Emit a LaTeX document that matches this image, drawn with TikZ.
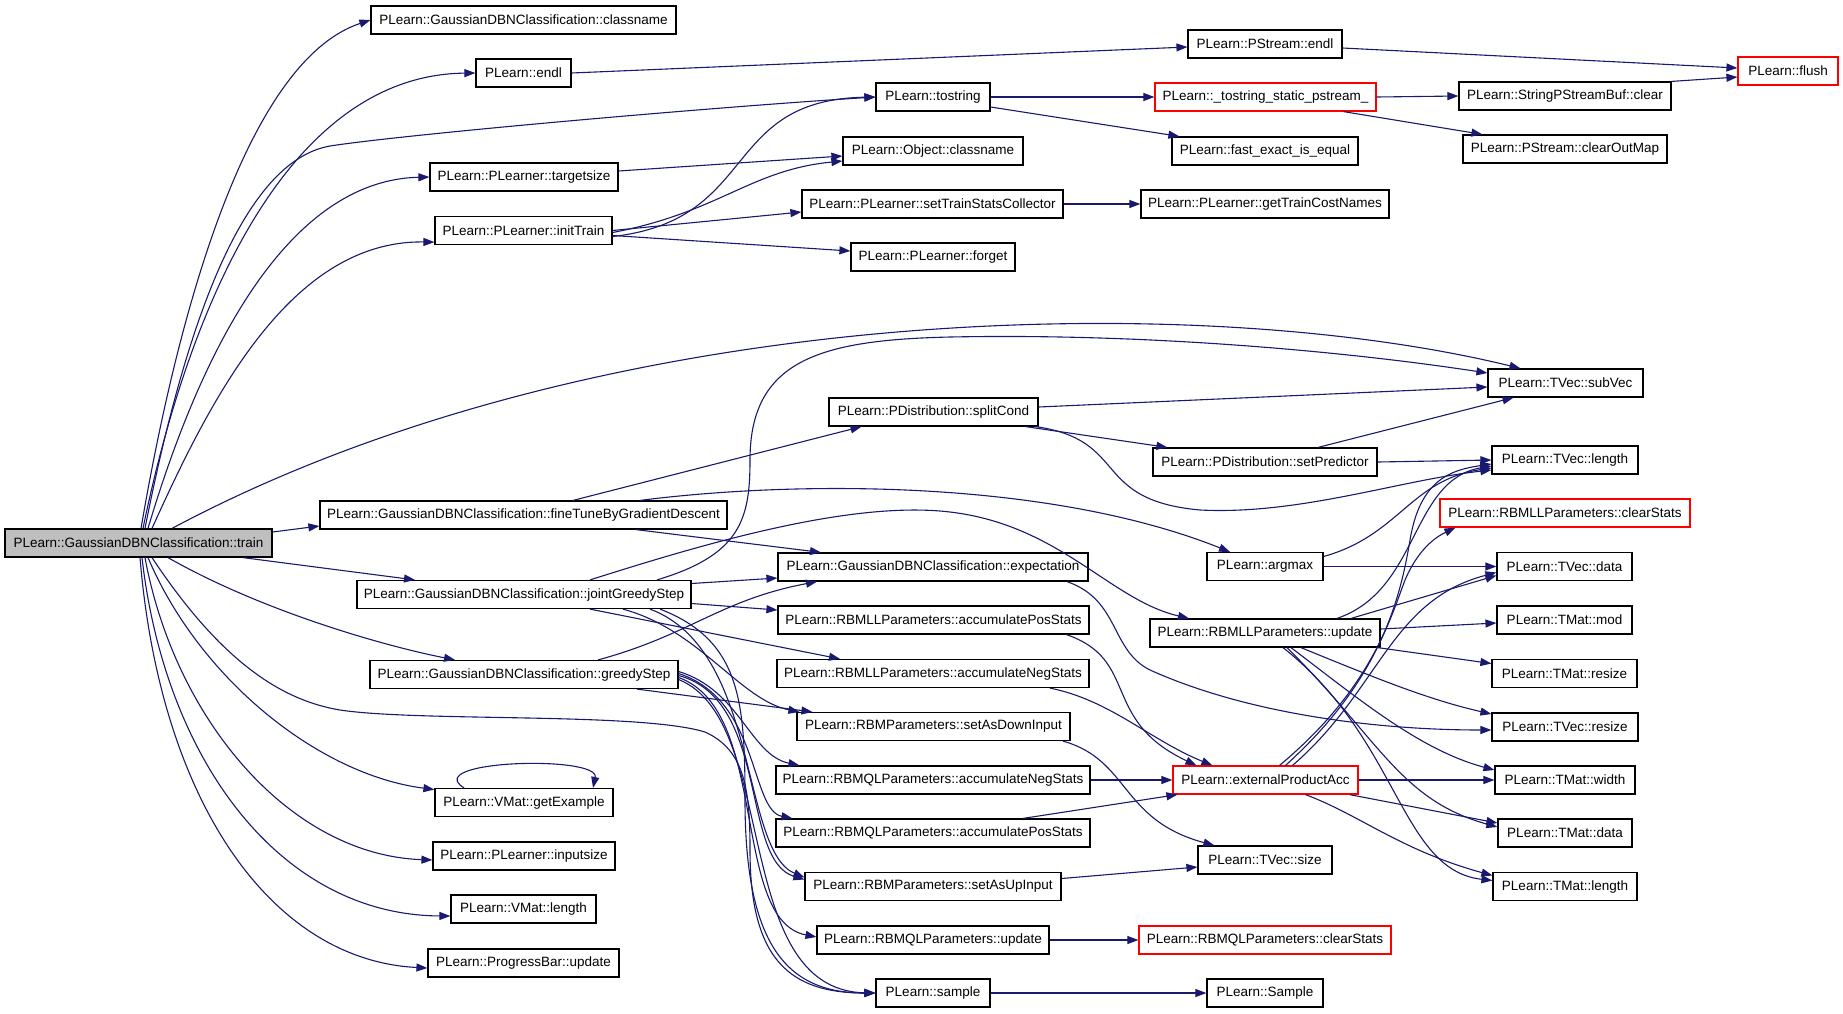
\documentclass[tikz,border=0pt]{standalone}
\usepackage{fontspec}
\setmainfont{Liberation Sans}
\usetikzlibrary{arrows.meta}
\definecolor{dblue}{HTML}{191970}
\definecolor{tgray}{HTML}{BFBFBF}
\begin{document}
\begin{tikzpicture}[x=1pt,y=-1pt,
  nbox/.style={draw=black, line width=1.2pt, fill=white, minimum height=28pt, inner sep=0pt, font=\fontsize{13.5pt}{15pt}\selectfont},
  redbox/.style={nbox, draw=red},
  cl/.style={draw=dblue, line width=1.1pt, -{Triangle[length=11pt,width=8pt]}}]
\useasboundingbox[fill=white] (0,0) rectangle (1843,1013);
% column 0
\node[nbox, fill=tgray, minimum width=267pt] (train) at (138.5,543) {PLearn::GaussianDBNClassification::train};
% column 1
\node[nbox, minimum width=305pt] (gclass) at (523.5,20) {PLearn::GaussianDBNClassification::classname};
\node[nbox, minimum width=95pt] (endl) at (523.5,73) {PLearn::endl};
\node[nbox, minimum width=188pt] (targetsize) at (524,177) {PLearn::PLearner::targetsize};
\node[nbox, minimum width=177pt] (initTrain) at (523.5,230.5) {PLearn::PLearner::initTrain};
\node[nbox, minimum width=407pt] (fineTune) at (523.5,515) {PLearn::GaussianDBNClassification::fineTuneByGradientDescent};
\node[nbox, minimum width=334pt] (jgs) at (524,594.5) {PLearn::GaussianDBNClassification::jointGreedyStep};
\node[nbox, minimum width=308pt] (gs) at (524,674.5) {PLearn::GaussianDBNClassification::greedyStep};
\node[nbox, minimum width=178pt] (getEx) at (524,802.5) {PLearn::VMat::getExample};
\node[nbox, minimum width=182pt] (inputsize) at (524,856) {PLearn::PLearner::inputsize};
\node[nbox, minimum width=145pt] (vmatlen) at (523.5,909) {PLearn::VMat::length};
\node[nbox, minimum width=191pt] (progress) at (523.5,963) {PLearn::ProgressBar::update};
% column 2
\node[nbox, minimum width=114pt] (tostring) at (933,97) {PLearn::tostring};
\node[nbox, minimum width=180pt] (objclass) at (933,151) {PLearn::Object::classname};
\node[nbox, minimum width=261pt] (setTSC) at (932.5,204) {PLearn::PLearner::setTrainStatsCollector};
\node[nbox, minimum width=164pt] (forget) at (933,257) {PLearn::PLearner::forget};
\node[nbox, minimum width=209pt] (splitCond) at (933.5,412) {PLearn::PDistribution::splitCond};
\node[nbox, minimum width=310pt] (expectation) at (933,567) {PLearn::GaussianDBNClassification::expectation};
\node[nbox, minimum width=311pt] (llaccpos) at (933.5,620) {PLearn::RBMLLParameters::accumulatePosStats};
\node[nbox, minimum width=312pt] (llaccneg) at (933,673.5) {PLearn::RBMLLParameters::accumulateNegStats};
\node[nbox, minimum width=273pt] (setDown) at (933.5,726.5) {PLearn::RBMParameters::setAsDownInput};
\node[nbox, minimum width=314pt] (qlaccneg) at (933,780) {PLearn::RBMQLParameters::accumulateNegStats};
\node[nbox, minimum width=314pt] (qlaccpos) at (933,833) {PLearn::RBMQLParameters::accumulatePosStats};
\node[nbox, minimum width=256pt] (setUp) at (933,886.5) {PLearn::RBMParameters::setAsUpInput};
\node[nbox, minimum width=232pt] (qlupdate) at (933,940) {PLearn::RBMQLParameters::update};
\node[nbox, minimum width=114pt] (sample) at (933,993) {PLearn::sample};
% column 3
\node[nbox, minimum width=154pt] (pendl) at (1265,44) {PLearn::PStream::endl};
\node[redbox, minimum width=221pt] (tss) at (1265.5,97) {PLearn::\_tostring\_static\_pstream\_};
\node[nbox, minimum width=186pt] (fastexact) at (1265,151) {PLearn::fast\_exact\_is\_equal};
\node[nbox, minimum width=248pt] (getTCN) at (1265,204) {PLearn::PLearner::getTrainCostNames};
\node[nbox, minimum width=224pt] (setPred) at (1265,462) {PLearn::PDistribution::setPredictor};
\node[nbox, minimum width=116pt] (argmax) at (1265,566.5) {PLearn::argmax};
\node[nbox, minimum width=230pt] (llupdate) at (1265,633) {PLearn::RBMLLParameters::update};
\node[redbox, minimum width=185pt] (extprod) at (1265.5,780) {PLearn::externalProductAcc};
\node[nbox, minimum width=134pt] (tvecsize) at (1265,860) {PLearn::TVec::size};
\node[redbox, minimum width=252pt] (qlclear) at (1265,940) {PLearn::RBMQLParameters::clearStats};
\node[nbox, minimum width=116pt] (Sample) at (1265,993) {PLearn::Sample};
% column 4
\node[nbox, minimum width=212pt] (spbclear) at (1565,96) {PLearn::StringPStreamBuf::clear};
\node[nbox, minimum width=204pt] (clearOut) at (1565,149) {PLearn::PStream::clearOutMap};
\node[nbox, minimum width=155pt] (subVec) at (1565.5,383) {PLearn::TVec::subVec};
\node[nbox, minimum width=146pt] (tveclen) at (1565,460) {PLearn::TVec::length};
\node[redbox, minimum width=250pt] (llclear) at (1565,513) {PLearn::RBMLLParameters::clearStats};
\node[nbox, minimum width=135pt] (tvecdata) at (1564.5,566.5) {PLearn::TVec::data};
\node[nbox, minimum width=135pt] (tmatmod) at (1564.5,620) {PLearn::TMat::mod};
\node[nbox, minimum width=145pt] (tmatresize) at (1564.5,673.5) {PLearn::TMat::resize};
\node[nbox, minimum width=146pt] (tvecresize) at (1565,727) {PLearn::TVec::resize};
\node[nbox, minimum width=140pt] (tmatwidth) at (1565,780) {PLearn::TMat::width};
\node[nbox, minimum width=134pt] (tmatdata) at (1565,833) {PLearn::TMat::data};
\node[nbox, minimum width=144pt] (tmatlen) at (1565,886.5) {PLearn::TMat::length};
% column 5
\node[redbox, minimum width=100pt] (flush) at (1788,71) {PLearn::flush};

% ---- edges from train
\draw[cl] ([xshift=2.5pt]train.north) .. controls (180,300) and (250,60) .. (gclass.west);
\draw[cl] ([xshift=4.5pt]train.north) .. controls (190,300) and (290,75) .. (endl.west);
\draw[cl] ([xshift=6.5pt]train.north) .. controls (190,300) and (250,160) .. (330,146) .. controls (400,135) and (700,108) .. (tostring.west);
\draw[cl] ([xshift=9.5pt]train.north) .. controls (210,320) and (300,180) .. (targetsize.west);
\draw[cl] ([xshift=13.5pt]train.north) .. controls (210,400) and (290,240) .. ([yshift=3pt]initTrain.south west);
\draw[cl] ([xshift=33.5pt]train.north) .. controls (600,300) and (1200,290) .. ([xshift=-45pt]subVec.north);
\draw[cl] ([yshift=11pt]train.east) -- ([yshift=-11pt]fineTune.west);
\draw[cl] ([xshift=104.5pt]train.south) -- ([xshift=-109pt]jgs.north);
\draw[cl] ([xshift=29.5pt]train.south) .. controls (260,610) and (380,645) .. ([xshift=-69pt]gs.north);
\draw[cl] ([xshift=13.5pt]train.south) .. controls (220,660) and (280,700) .. (340,710) .. controls (420,722) and (640,712) .. (705,732) .. controls (745,750) and (750,790) .. (750,850) .. controls (750,960) and (790,993) .. (sample.west);
\draw[cl] ([xshift=9.5pt]train.south) .. controls (200,680) and (320,775) .. ([yshift=13pt]getEx.west);
\draw[cl] ([xshift=6.5pt]train.south) .. controls (175,720) and (290,855) .. ([yshift=-4pt]inputsize.west);
\draw[cl] ([xshift=3.5pt]train.south) .. controls (165,760) and (280,915) .. ([yshift=-7pt]vmatlen.west);
\draw[cl] ([xshift=1.5pt]train.south) .. controls (160,800) and (270,960) .. ([yshift=-5pt]progress.west);
\draw[cl] ([xshift=-60pt]getEx.north) .. controls (420,760) and (600,755) .. ([xshift=69pt]getEx.north);

% ---- column 1 -> 2
\draw[cl] ([yshift=-6pt]initTrain.east) .. controls (760,220) and (720,100) .. (tostring.west);
\draw[cl] ([yshift=-2pt]initTrain.east) .. controls (720,212) and (750,170) .. ([yshift=-10pt]objclass.west);
\draw[cl] ([yshift=6pt]targetsize.east) -- ([yshift=-5pt]objclass.west);
\draw[cl] (initTrain.east) -- ([yshift=-8pt]setTSC.west);
\draw[cl] ([yshift=-5pt]initTrain.east) -- ([yshift=6pt]forget.west);
\draw[cl] (endl.east) -- ([yshift=-3pt]pendl.west);
\draw[cl] ([yshift=-4pt]pendl.east) -- ([yshift=3pt]flush.west);
\draw[cl] (tostring.east) -- (tss.west);
\draw[cl] ([yshift=-10pt]tostring.east) -- ([xshift=8pt]fastexact.north west);
\draw[cl] (tss.east) -- (spbclear.west);
\draw[cl] ([xshift=78pt]tss.south) -- ([xshift=20pt]clearOut.north west);
\draw[cl] (spbclear.north east) -- ([yshift=-6pt]flush.west);
\draw[cl] (setTSC.east) -- (getTCN.west);

% fineTune
\draw[cl] ([xshift=49.5pt]fineTune.north) -- ([xshift=-72pt]splitCond.south);
\draw[cl] ([xshift=116.5pt]fineTune.north) .. controls (800,480) and (1050,480) .. ([xshift=-35pt]argmax.north);
\draw[cl] ([xshift=112.5pt]fineTune.south) -- ([xshift=-112pt]expectation.north);

% splitCond / setPredictor
\draw[cl] ([yshift=5pt]splitCond.east) -- ([yshift=-4pt]subVec.west);
\draw[cl] ([xshift=-13pt]splitCond.south east) -- ([xshift=15pt]setPred.north west);
\draw[cl] ([xshift=-3pt]splitCond.south east) .. controls (1130,440) and (1090,500) .. (1200,510) .. controls (1300,515) and (1400,480) .. ([yshift=-10pt]tveclen.west);
\draw[cl] ([xshift=53pt]setPred.north) -- ([xshift=-52pt]subVec.south);
\draw[cl] (setPred.east) -- (tveclen.west);

% jointGreedyStep
\draw[cl] ([yshift=11pt]jgs.east) -- ([yshift=-11pt]expectation.west);
\draw[cl] ([yshift=-9pt]jgs.east) -- ([yshift=10pt]llaccpos.west);
\draw[cl] ([xshift=66pt]jgs.south) -- ([xshift=-93pt]llaccneg.north);
\draw[cl] ([xshift=99pt]jgs.south) .. controls (700,630) and (740,700) .. ([xshift=3pt]setDown.north west);
\draw[cl] ([xshift=136pt]jgs.south) .. controls (740,640) and (745,700) .. (745,800) .. controls (745,950) and (790,993) .. (sample.west);
\draw[cl] ([xshift=126pt]jgs.south) .. controls (760,650) and (740,850) .. ([yshift=9pt]setUp.west);
\draw[cl] ([xshift=66pt]jgs.north) .. controls (700,545) and (850,500) .. (950,512) .. controls (1060,525) and (1110,600) .. ([xshift=-76pt]llupdate.north);
\draw[cl] ([xshift=133pt]jgs.north) .. controls (740,555) and (750,520) .. (750,460) .. controls (750,360) and (820,340) .. (950,337) .. controls (1150,333) and (1350,352) .. ([yshift=10pt]subVec.west);

% greedyStep
\draw[cl] ([xshift=74pt]gs.north) .. controls (690,635) and (720,600) .. ([xshift=-116pt]expectation.south);
\draw[cl] ([xshift=113pt]gs.south) -- ([xshift=16pt]setDown.north west);
\draw[cl] ([yshift=3pt]gs.east) .. controls (740,690) and (750,755) .. ([xshift=24pt]qlaccneg.north west);
\draw[cl] ([yshift=1pt]gs.east) .. controls (760,700) and (750,810) .. ([xshift=17pt]qlaccpos.north west);
\draw[cl] ([yshift=-1pt]gs.east) .. controls (770,700) and (740,860) .. ([yshift=7pt]setUp.west);
\draw[cl] ([yshift=-3pt]gs.east) .. controls (770,710) and (730,920) .. ([yshift=3pt]qlupdate.west);
\draw[cl] ([yshift=-5pt]gs.east) .. controls (780,720) and (730,990) .. (sample.west);

% column 2 -> 3
\draw[cl] ([xshift=134pt]expectation.south) .. controls (1120,600) and (1110,650) .. (1150,670) .. controls (1250,715) and (1380,730) .. ([yshift=-3pt]tvecresize.west);
\draw[cl] ([xshift=133pt]llaccpos.south) .. controls (1140,660) and (1100,720) .. ([xshift=24pt]extprod.north west);
\draw[cl] ([xshift=117pt]llaccneg.south) .. controls (1110,700) and (1150,740) .. ([xshift=40pt]extprod.north west);
\draw[cl] ([xshift=129.5pt]setDown.south) .. controls (1130,760) and (1120,820) .. ([xshift=17pt]tvecsize.north west);
\draw[cl] (qlaccneg.east) -- (extprod.west);
\draw[cl] ([xshift=90pt]qlaccpos.north) -- ([xshift=5pt]extprod.south west);
\draw[cl] ([yshift=8pt]setUp.east) -- ([yshift=-7pt]tvecsize.west);
\draw[cl] (qlupdate.east) -- (qlclear.west);
\draw[cl] (sample.east) -- (Sample.west);

% argmax
\draw[cl] ([yshift=10pt]argmax.east) .. controls (1400,535) and (1410,480) .. ([yshift=-8pt]tveclen.west);
\draw[cl] (argmax.east) -- (tvecdata.west);

% RBMLL update
\draw[cl] ([xshift=72pt]llupdate.north) .. controls (1420,590) and (1410,480) .. ([yshift=-6pt]tveclen.west);
\draw[cl] ([xshift=86pt]llupdate.north) -- ([yshift=-9pt]tvecdata.west);
\draw[cl] ([yshift=4pt]llupdate.east) -- ([yshift=-3pt]tmatmod.west);
\draw[cl] ([xshift=-3pt]llupdate.south east) -- ([yshift=10pt]tmatresize.west);
\draw[cl] ([xshift=36pt]llupdate.south) .. controls (1380,680) and (1430,700) .. ([yshift=13pt]tvecresize.west);
\draw[cl] ([xshift=26pt]llupdate.south) .. controls (1360,700) and (1420,750) .. ([yshift=10pt]tmatwidth.west);
\draw[cl] ([xshift=22pt]llupdate.south) .. controls (1380,740) and (1400,800) .. ([yshift=6pt]tmatdata.west);
\draw[cl] ([xshift=18pt]llupdate.south) .. controls (1400,740) and (1400,870) .. ([yshift=6pt]tmatlen.west);

% externalProductAcc
\draw[cl] ([xshift=14pt]extprod.north) .. controls (1370,690) and (1390,620) .. (1405,580) .. controls (1420,545) and (1440,535) .. ([xshift=16pt]llclear.south west);
\draw[cl] ([xshift=20pt]extprod.north) .. controls (1380,680) and (1400,600) .. (1410,540) .. controls (1420,480) and (1450,470) .. ([yshift=-4pt]tveclen.west);
\draw[cl] ([xshift=27pt]extprod.north) .. controls (1380,690) and (1390,600) .. ([yshift=-6pt]tvecdata.west);
\draw[cl] (extprod.east) -- (tmatwidth.west);
\draw[cl] ([xshift=-9pt]extprod.south east) -- ([yshift=10pt]tmatdata.west);
\draw[cl] ([xshift=40pt]extprod.south) .. controls (1360,815) and (1400,850) .. ([yshift=11pt]tmatlen.west);
\end{tikzpicture}
\end{document}
